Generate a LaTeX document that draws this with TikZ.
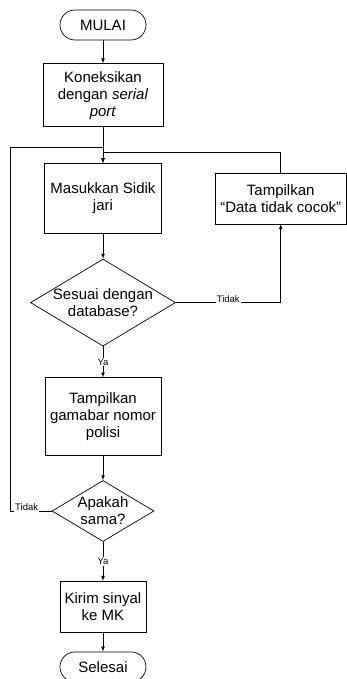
\documentclass[tikz,border=0pt]{standalone}
\usepackage{fontspec}
\setmainfont{Liberation Sans}
\usetikzlibrary{shapes.geometric, arrows, positioning}
\tikzstyle{terminal} = [rectangle, rounded corners=15pt, minimum width=86pt, minimum height=30pt, text centered, draw, line width=0.7pt]
\tikzstyle{proses} = [rectangle, minimum width=117pt, minimum height=70pt, text centered, draw, line width=0.7pt]
\tikzstyle{keputusan} = [diamond, aspect=1.67, inner sep=-2pt, minimum width=145pt, minimum height=87pt, text centered, draw, line width=0.7pt]
\tikzstyle{alur} = [line width=0.7pt, ->, >=latex]
\tikzstyle{garis} = [line width=0.7pt]
\tikzstyle{ya} = [fill=white, inner sep=1pt, font=\fontsize{9.5}{10}\selectfont]
\tikzstyle{tidak} = [fill=white, inner sep=1pt, anchor=south, yshift=-1.2pt, font=\fontsize{9.5}{10}\selectfont]

\begin{document}
\begin{tikzpicture}[align=center, font=\fontsize{15}{17}\selectfont]
  \useasboundingbox (0,0) rectangle (347pt,-679pt);
  \node (mulai) [terminal] at (103pt,-25pt) {MULAI};
  \node (konek) [proses, below=23pt of mulai, minimum width=120pt, minimum height=63pt] {Koneksikan\\dengan \textit{serial}\\\textit{port}};
  \node (masuk) [proses, below=36pt of konek] {Masukkan Sidik\\jari};
  \node (tampil) [proses, right=53pt of masuk, minimum width=131pt, minimum height=51pt] {Tampilkan\\``Data tidak cocok''};
  \node (cek1) [keputusan, below=25pt of masuk] {Sesuai dengan\\database?};
  \node (gambar) [proses, below=31pt of cek1, minimum width=116pt, minimum height=78pt] {Tampilkan\\gamabar nomor\\polisi};
  \node (cek2) [keputusan, below=24pt of gambar, minimum width=102pt, minimum height=61pt] {Apakah\\sama?};
  \node (kirim) [proses, below=39pt of cek2, minimum width=86pt, minimum height=51pt] {Kirim sinyal\\ke MK};
  \node (selesai) [terminal, below=19pt of kirim] {Selesai};
  \coordinate (kiri) at (10pt,0);
  \node (gabung1) [coordinate, above=16pt of masuk] {};
  \node (gabung2) [coordinate, above=11pt of masuk] {};
  \draw [alur] (mulai) -- (konek);
  \draw [alur] (konek) -- (masuk);
  \draw [alur] (masuk) -- (cek1);
  \draw [alur] (cek1) -- node[ya] {Ya} (gambar);
  \draw [alur] (cek1.east) -| node[tidak, pos=0.25] {Tidak} (tampil.south);
  \draw [garis] (tampil.north) |- (gabung2);
  \draw [alur] (gambar) -- (cek2);
  \draw [alur] (cek2) -- node[ya] {Ya} (kirim);
  \draw [alur] (cek2.west) -- node[tidak, pos=0.6] {Tidak} (cek2.west -| kiri) |- (gabung1) -- (masuk.north);
  \draw [alur] (kirim) -- (selesai);
\end{tikzpicture}
\end{document}
